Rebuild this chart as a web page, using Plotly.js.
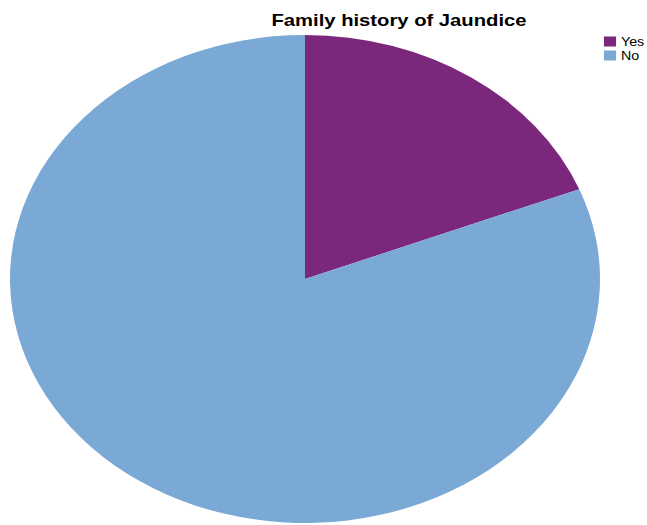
<!DOCTYPE html>
<html>
<head>
<meta charset="utf-8">
<script src="https://cdn.plot.ly/plotly-3.0.1.min.js"></script>
<style>html,body{margin:0;padding:0;background:#fff;}#chart{width:647px;height:525px;}</style>
</head>
<body>
<div id="chart"></div>
<script>
const categories = ["Yes", "No"];
const values = [19, 81];
const colors = ["#7B277B", "#7BA9D6"];
const chartTitle = "Family history of Jaundice";

const W = 647, H = 525;
const STRETCH = 1.19; // the reference picture is stretched horizontally

const trace = {
  type: "pie",
  labels: categories,
  values: values,
  sort: false,
  direction: "clockwise",
  rotation: 0,
  textinfo: "none",
  hoverinfo: "label+percent",
  marker: { colors: colors, line: { width: 0 } },
  domain: { x: [0.1, 0.85], y: [0.0, 0.93] }
};

const layout = {
  width: W, height: H,
  margin: { l: 0, r: 0, t: 0, b: 0 },
  paper_bgcolor: "#ffffff",
  font: { family: "Liberation Sans, Arial, sans-serif", color: "#000000" },
  title: {
    text: "<b>" + chartTitle + "</b>",
    font: { size: 17, family: "Liberation Sans, Arial, sans-serif", color: "#000000" },
    x: 0.62, xanchor: "center", xref: "paper",
    y: 1 - 20 / H, yanchor: "middle", yref: "container"
  },
  showlegend: true,
  legend: {
    x: 0.9, xanchor: "left", y: 0.96, yanchor: "top",
    font: { size: 12, color: "#000000" },
    bgcolor: "rgba(0,0,0,0)", borderwidth: 0,
    itemwidth: 30
  }
};

function parseT(el) {
  const t = el.getAttribute("transform") || "";
  const m = t.match(/translate\(\s*([-\d.e]+)(?:[\s,]+([-\d.e]+))?/);
  return m ? [parseFloat(m[1]), parseFloat(m[2] || 0)] : [0, 0];
}

Plotly.newPlot("chart", [trace], layout, { displayModeBar: false, staticPlot: true }).then(function (gd) {
  // pie: stretch into the reference's ellipse
  const pl = gd.querySelector(".pielayer");
  if (pl) {
    const b = pl.getBBox();
    const L = 10, R = 600, T = 35, B = 523;
    const sx = (R - L) / b.width, sy = (B - T) / b.height;
    pl.setAttribute("transform", "translate(" + (L - b.x * sx) + "," + (T - b.y * sy) + ") scale(" + sx + "," + sy + ")");
  }
  // title: same horizontal stretch
  const tt = gd.querySelector(".gtitle");
  if (tt) {
    const tb = tt.getBBox();
    const tcx = tb.x + tb.width / 2;
    const baseline = tb.y + 0.905 * 17;
    const wantCx = 399, wantBase = 26;
    tt.setAttribute("transform", "translate(" + wantCx + "," + (wantBase - baseline) + ") scale(" + STRETCH + ",1) translate(" + (-tcx) + ",0)");
  }
  // legend: tighter rows, smaller swatches, same stretch
  const leg = gd.querySelector("g.legend");
  if (leg) {
    const traces = leg.querySelectorAll("g.traces");
    if (traces.length > 1) {
      const t0 = parseT(traces[0]);
      traces[1].setAttribute("transform", "translate(" + t0[0] + "," + (t0[1] + 14) + ")");
    }
    leg.querySelectorAll(".legendpoints path").forEach(function (p) {
      const pt = parseT(p);
      p.setAttribute("transform", "translate(" + (pt[0] + 10.8) + "," + pt[1] + ") scale(0.85)");
    });
    const lt = parseT(leg);
    leg.setAttribute("transform", "translate(" + lt[0] + "," + lt[1] + ") scale(" + STRETCH + ",1)");
    const sym = leg.querySelector(".legendpoints path");
    if (sym) {
      const r = sym.getBoundingClientRect();
      const dx = 610 - (r.left + r.right) / 2;
      const dy = 41.5 - (r.top + r.bottom) / 2;
      leg.setAttribute("transform", "translate(" + (lt[0] + dx) + "," + (lt[1] + dy) + ") scale(" + STRETCH + ",1)");
    }
  }
});
</script>
</body>
</html>
